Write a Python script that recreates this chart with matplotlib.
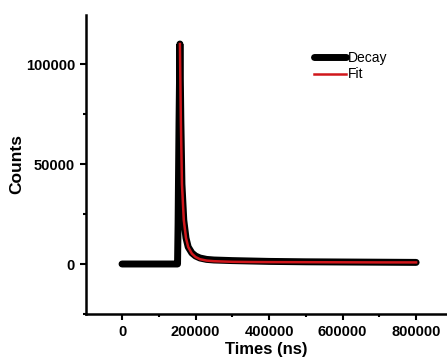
import matplotlib
matplotlib.use("Agg")
import matplotlib.pyplot as plt
from matplotlib.ticker import MultipleLocator

plt.rcParams['font.family'] = ['Liberation Sans', 'DejaVu Sans']

# Decay data (time in ns, counts)
decay_t = [0, 50000, 100000, 148000, 151000, 152500, 155000, 157500, 160000, 163000,
           168000, 174000, 180000, 190000, 200000, 212000, 230000, 250000, 300000,
           350000, 400000, 500000, 600000, 700000, 800000]
decay_c = [0, 0, 0, 0, 0, 20000, 70000, 110000, 72000, 40000,
           22000, 13000, 8500, 5500, 4000, 3000, 2300, 2000, 1700,
           1500, 1300, 1100, 1000, 900, 800]

# Fit data
fit_t = [157500, 160000, 163000, 168000, 174000, 180000, 190000, 200000, 212000,
         230000, 250000, 300000, 350000, 400000, 500000, 600000, 700000, 800000]
fit_c = [110000, 72000, 40000, 22000, 13000, 8500, 5200, 3500, 2400,
         1700, 1400, 1100, 1000, 950, 900, 850, 800, 800]

xticks = [0, 200000, 400000, 600000, 800000]
yticks = [0, 50000, 100000]

fig = plt.figure(figsize=(4.47, 3.60), dpi=100)
ax = fig.add_axes([86/447, 46/360, (447-86)/447, (314-15)/360])

ax.plot(decay_t, decay_c, color='black', lw=5, solid_capstyle='round',
        solid_joinstyle='round', label='Decay')
ax.plot(fit_t, fit_c, color='#d0161b', lw=1.8, label='Fit')

ax.set_xlim(-98000, 884000)
ax.set_ylim(-25000, 124500)
ax.set_xticks(xticks)
ax.set_yticks(yticks)
ax.xaxis.set_minor_locator(MultipleLocator(100000))
ax.yaxis.set_minor_locator(MultipleLocator(25000))
ax.set_xticklabels([str(v) for v in xticks], fontsize=10.5, fontweight='bold')
ax.set_yticklabels([str(v) for v in yticks], fontsize=10.5, fontweight='bold')
ax.tick_params(which='major', direction='out', length=4, width=1.5, pad=4)
ax.tick_params(which='minor', direction='out', length=2.5, width=1.5)

for s in ['top', 'right']:
    ax.spines[s].set_visible(False)
for s in ['left', 'bottom']:
    ax.spines[s].set_linewidth(1.8)

ax.set_xlabel('Times (ns)', fontsize=12, fontweight='bold', labelpad=2)
ax.set_ylabel('Counts', fontsize=12.5, fontweight='bold', labelpad=1)

leg = ax.legend(loc='upper left', bbox_to_anchor=(0.617, 0.897), frameon=False,
                fontsize=10, handlelength=2.3, handletextpad=0.1,
                labelspacing=0.15, borderaxespad=0)

fig.savefig('out.png', dpi=100)
